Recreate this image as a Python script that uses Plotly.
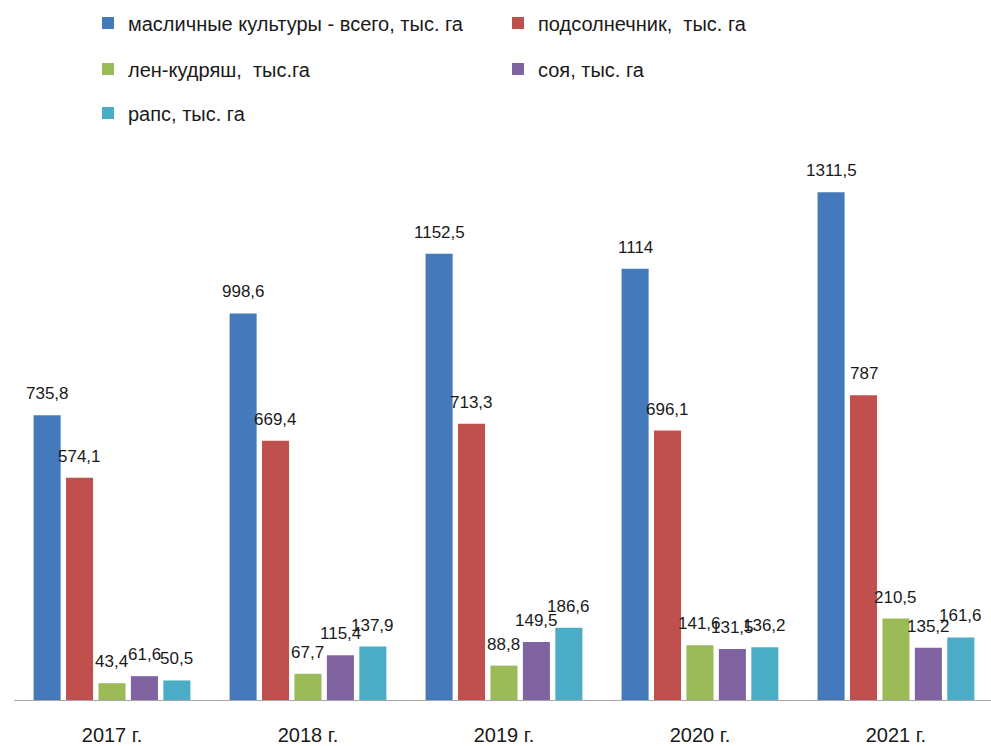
import plotly.graph_objects as go

years = ["2017 г.", "2018 г.", "2019 г.", "2020 г.", "2021 г."]

total_oilseeds = [735.8, 998.6, 1152.5, 1114, 1311.5]
sunflower = [574.1, 669.4, 713.3, 696.1, 787]
flax = [43.4, 67.7, 88.8, 141.6, 210.5]
soy = [61.6, 115.4, 149.5, 131.5, 135.2]
rapeseed = [50.5, 137.9, 186.6, 136.2, 161.6]

series_names = [
    "масличные культуры - всего, тыс. га",
    "подсолнечник,  тыс. га",
    "лен-кудряш,  тыс.га",
    "соя, тыс. га",
    "рапс, тыс. га",
]
series_values = [total_oilseeds, sunflower, flax, soy, rapeseed]
colors = ["#4479BB", "#C0504D", "#9BBB59", "#8064A2", "#4BACC6"]
legend_ids = ["legend", "legend", "legend2", "legend2", "legend3"]

FONT = "Liberation Sans"
TEXT = "#1a1a1a"

# bar layout inside each year group (category units)
BAR_W = 0.138
SLOT = 0.1655
GROUP_START = -0.40


def fmt(v):
    s = f"{v:.1f}".rstrip("0").rstrip(".")
    return s.replace(".", ",")


fig = go.Figure()
annotations = []
for k, (name, vals, col, lg) in enumerate(zip(series_names, series_values, colors, legend_ids)):
    off = GROUP_START + k * SLOT
    fig.add_trace(go.Bar(
        x=years, y=vals, name=name,
        marker=dict(color=col, line=dict(width=0)),
        width=BAR_W, offset=off,
        legend=lg,
        hovertemplate="%{x}: %{y}<extra>" + name + "</extra>",
    ))
    # value labels above each bar
    for i, v in enumerate(vals):
        annotations.append(dict(
            x=i + off + BAR_W / 2, y=v, xref="x", yref="y",
            text=fmt(v), showarrow=False,
            xanchor="center", yanchor="bottom", yshift=10,
            font=dict(family=FONT, size=17, color=TEXT),
        ))

legend_common = dict(
    orientation="h",
    xref="container", yref="container",
    x=88 / 991, xanchor="left", yanchor="middle",
    entrywidth=365, entrywidthmode="pixels",
    font=dict(family=FONT, size=20, color=TEXT),
    bgcolor="rgba(0,0,0,0)",
    itemclick=False,
)

fig.update_layout(
    width=991, height=746,
    margin=dict(l=14, r=0, t=158, b=43),
    paper_bgcolor="white", plot_bgcolor="white",
    barmode="overlay",
    legend=dict(legend_common, y=1 - 23 / 746),
    legend2=dict(legend_common, y=1 - 69 / 746),
    legend3=dict(legend_common, y=1 - 113 / 746),
    annotations=annotations,
    xaxis=dict(
        type="category",
        range=[-0.5, 4.485],
        showline=True, linecolor="#A6A6A6", linewidth=1,
        ticks="", showgrid=False,
        ticklabelstandoff=17,
        tickfont=dict(family=FONT, size=20, color=TEXT),
    ),
    yaxis=dict(
        range=[0, 1400], visible=False, showgrid=False, zeroline=False,
    ),
)

fig.write_html("out.html")
